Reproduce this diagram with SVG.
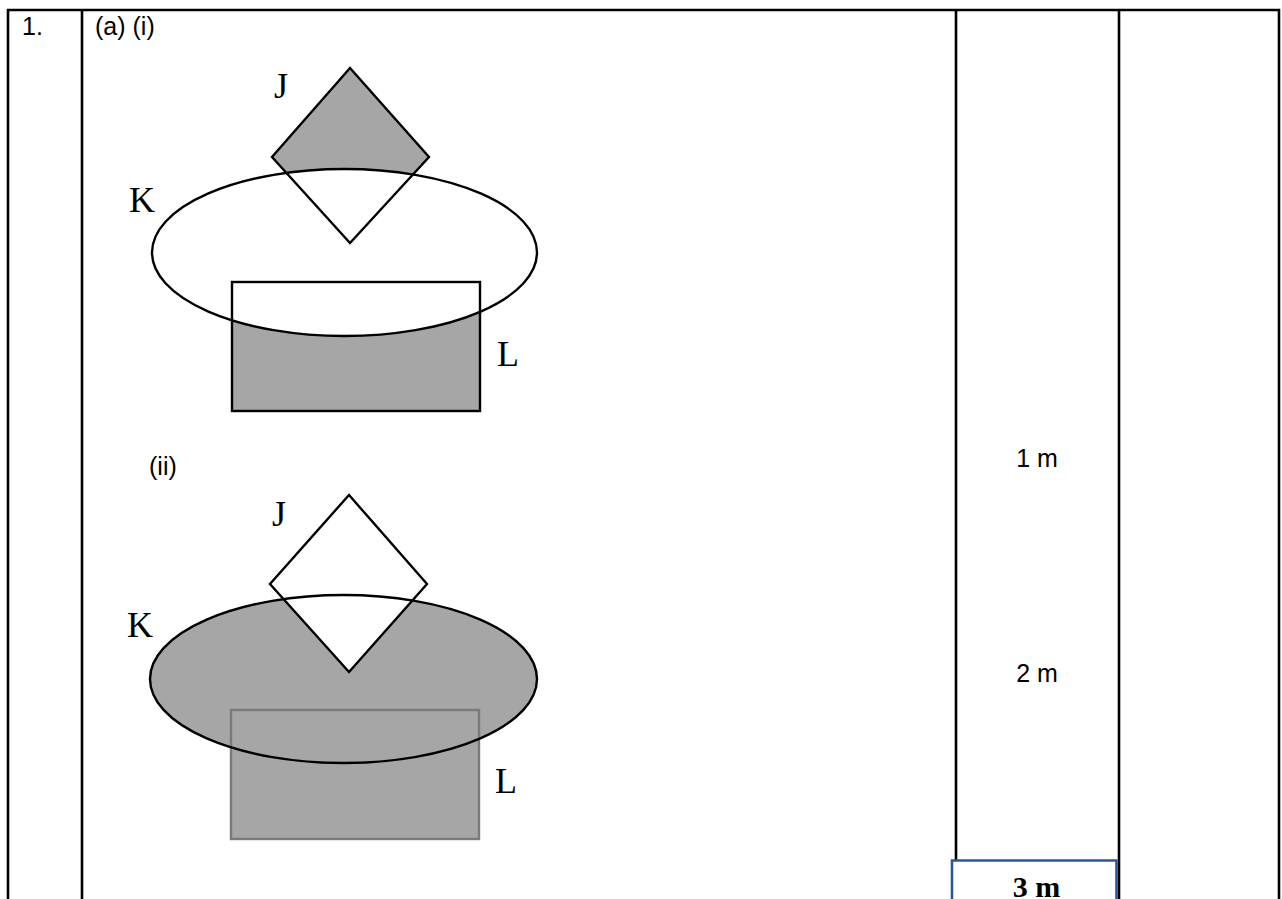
<svg xmlns="http://www.w3.org/2000/svg" width="1282" height="899" viewBox="0 0 1282 899">
<style>
.grid{stroke:#000;stroke-width:2.6;fill:none}
.t{font-family:"Liberation Sans","Open Sans",sans-serif;font-size:25px;fill:#000}
.lbl{font-family:"Liberation Serif","Times New Roman",serif;font-size:36px;fill:#000}
.ol{stroke:#000;stroke-width:2.4;fill:none}
.gray{fill:#a6a6a6}
</style>
<rect width="1282" height="899" fill="#fff"/>
<g id="table">
<line class="grid" x1="7" y1="10" x2="1280" y2="10"/>
<line class="grid" x1="8" y1="9" x2="8" y2="899"/>
<line class="grid" x1="82" y1="9" x2="82" y2="899"/>
<line class="grid" x1="956" y1="9" x2="956" y2="860"/>
<line class="grid" x1="1119" y1="9" x2="1119" y2="899"/>
<line class="grid" x1="1279" y1="9" x2="1279" y2="899"/>
<path d="M952,899 V860.5 H1116.5 V899" fill="none" stroke="#2f5597" stroke-width="2.6"/>
</g>
<g id="texts">
<text class="t" x="22" y="35">1.</text>
<text class="t" x="95" y="35">(a) (i)</text>
<text class="t" x="149" y="475">(ii)</text>
<text class="t" x="1037" y="467" text-anchor="middle">1 m</text>
<text class="t" x="1037" y="682" text-anchor="middle">2 m</text>
<text x="1036.5" y="897" text-anchor="middle" font-family="Liberation Serif,serif" font-weight="bold" font-size="30">3 m</text>
</g>
<g id="venn1">
<polygon class="gray" points="350,68 429,157 350,243 272,157"/>
<rect class="gray" x="232" y="282" width="248" height="129"/>
<ellipse cx="344.5" cy="252.5" rx="192.5" ry="83.5" fill="#fff" stroke="#000" stroke-width="2.4"/>
<polygon class="ol" points="350,68 429,157 350,243 272,157"/>
<rect class="ol" x="232" y="282" width="248" height="129"/>
<text class="lbl" x="274" y="98">J</text>
<text class="lbl" x="129" y="212">K</text>
<text class="lbl" x="497" y="366">L</text>
</g>
<g id="venn2">
<ellipse class="gray" cx="343.5" cy="679" rx="193.5" ry="84"/>
<rect x="231" y="710" width="248" height="129" fill="#a6a6a6" stroke="#7a7a7a" stroke-width="2.4"/>
<polygon points="349,495 427,584 349,672 270,584" fill="#fff" stroke="#000" stroke-width="2.4"/>
<ellipse class="ol" cx="343.5" cy="679" rx="193.5" ry="84"/>
<text class="lbl" x="272" y="526">J</text>
<text class="lbl" x="127" y="637">K</text>
<text class="lbl" x="495" y="793">L</text>
</g>
</svg>
